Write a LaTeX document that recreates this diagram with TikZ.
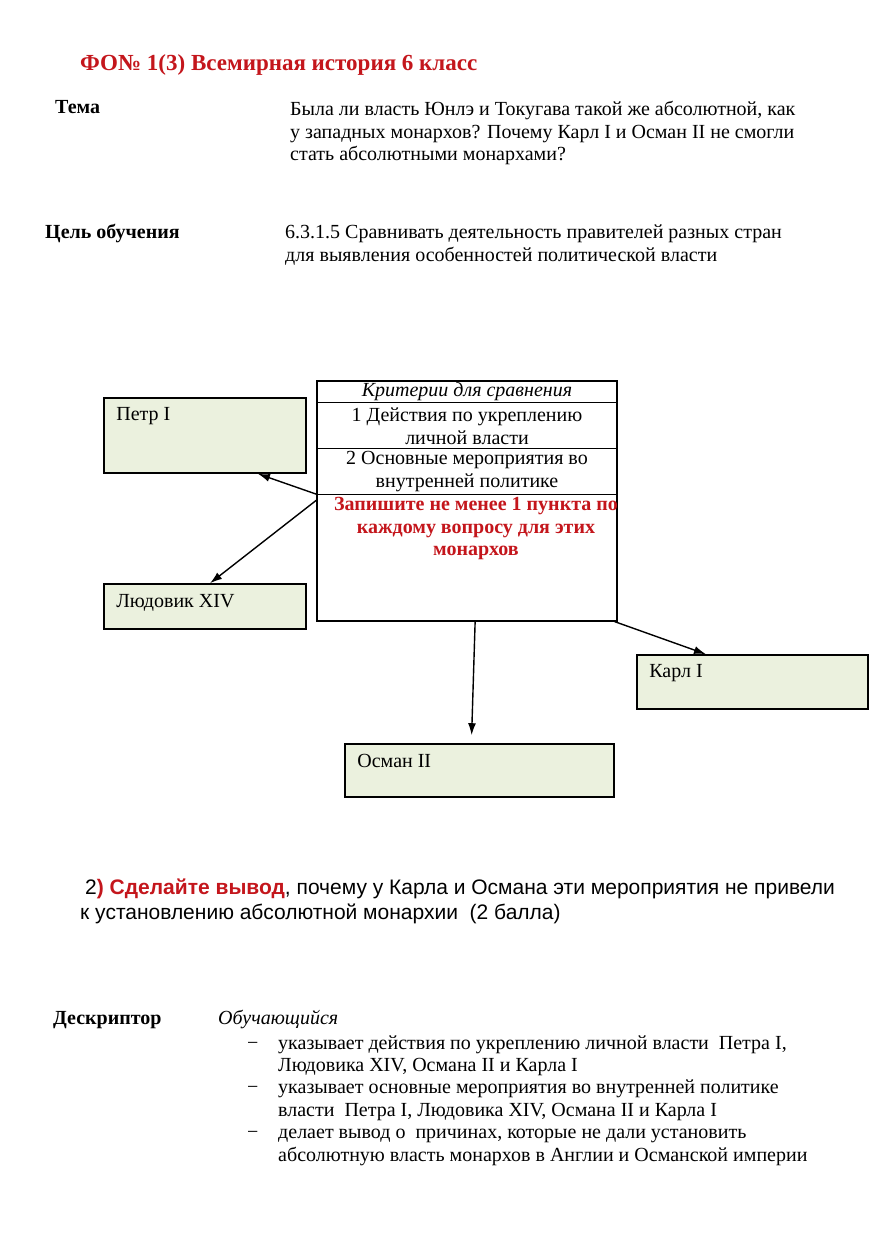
\documentclass[tikz,border=0pt]{standalone}
\usepackage{fontspec}
\setmainfont{Liberation Serif}
\newfontfamily\arialfont{Liberation Sans}
\usetikzlibrary{arrows.meta,calc}
\definecolor{boxgreen}{RGB}{235,241,222}
\definecolor{titlered}{RGB}{196,22,28}
\newcommand\bodysize{\fontsize{20}{22.6}\selectfont}
\tikzset{
    txt/.style={anchor=north west, inner sep=0pt, align=left},
    line/.style={anchor=base west, inner sep=0pt},
    monarch/.style={draw, line width=1.6pt, fill=boxgreen, inner sep=0pt},
    arr/.style={-{Latex[length=12pt,width=8pt]}, line width=1.4pt}
}
\begin{document}
\begin{tikzpicture}[
        x=1pt, y=-1pt,
        every node/.style={
            font=\bodysize
        }
    ]
        \useasboundingbox[fill=white] (0,0) rectangle (892,1238);

        % Header
        \node[line, font=\fontsize{23}{26}\selectfont\bfseries, text=titlered] (title) at (80,71) {ФО№ 1(3) Всемирная история 6 класс};

        \node[line, font=\bodysize\bfseries] (temaLbl) at (55,114) {Тема};
        \node[txt] (temaText) at (290,101) {Была ли власть Юнлэ и Токугава такой же абсолютной, как\\
            у западных монархов? Почему Карл I и Осман II не смогли\\
            стать абсолютными монархами?};

        \node[line, font=\bodysize\bfseries] (goalLbl) at (45,239) {Цель обучения};
        \node[txt] (goalText) at (285,225) {6.3.1.5 Сравнивать деятельность правителей разных стран\\
            для выявления особенностей политической власти};

        % Criteria table
        \node[draw, line width=1.2pt, minimum width=300, minimum height=240, inner sep=0pt] (crit) at (467,501) {};
        \node[font=\bodysize\itshape, inner sep=0pt] (critHead) at (467,392) {Критерии для сравнения};
        \node[align=center, inner sep=0pt, minimum height=46] (critOne) at (467,426) {1 Действия по укреплению\\ личной власти};
        \node[align=center, inner sep=0pt, minimum height=45] (critTwo) at (467,471.5) {2 Основные мероприятия во\\ внутренней политике};
        \node[align=center, anchor=north, inner sep=0pt, text=titlered, font=\bodysize\bfseries] (critNote) at (476,497) {Запишите не менее 1 пункта по\\ каждому вопросу для этих\\ монархов};

        \draw[line width=1.2pt] (crit.west |- critOne.north) -- (crit.east |- critOne.north);
        \draw[line width=1.2pt] (crit.west |- critTwo.north) -- (crit.east |- critTwo.north);
        \draw[line width=1.2pt] (crit.west |- critTwo.south) -- (crit.east |- critTwo.south);

        % Monarchs
        \node[monarch, minimum width=202, minimum height=75] (petr) at (205,435.5) {};
        \node[line] (petrLbl) at ([shift={(13,23)}]petr.north west) {Петр I};

        \node[monarch, minimum width=202, minimum height=45] (louis) at (205,606.5) {};
        \node[line] (louisLbl) at ([shift={(13,24)}]louis.north west) {Людовик XIV};

        \node[monarch, minimum width=231, minimum height=54] (karl) at (752.5,682) {};
        \node[line] (karlLbl) at ([shift={(13,23)}]karl.north west) {Карл I};

        \node[monarch, minimum width=269, minimum height=53] (osman) at (479.5,770.5) {};
        \node[line] (osmanLbl) at ([shift={(13,24)}]osman.north west) {Осман II};

        \draw[arr] (crit.west |- critTwo.south) -- ($(petr.south west)!0.76!(petr.south east)$);
        \draw[arr] ([yshift=-6]crit.west |- critTwo.south) -- ($(louis.north west)!0.525!(louis.north east)$);
        \draw[arr, shorten >=8pt] ($(crit.south west)!0.527!(crit.south east)$) -- ($(osman.north west)!0.47!(osman.north east)$);
        \draw[arr] ([xshift=-3]crit.south east) -- ($(karl.north west)!0.3!(karl.north east)$);

        % Task 2
        \node[line, font=\fontsize{21}{25}\selectfont\arialfont] (task) at (85,894) {2{\color{titlered}\bfseries) Сделайте вывод}, почему у Карла и Османа эти мероприятия не привели};
        \node[line, font=\fontsize{21}{25}\selectfont\arialfont] (taskCont) at (80,919) {к установлению абсолютной монархии\ \ (2 балла)};

        % Descriptor
        \node[line, font=\bodysize\bfseries] (descLbl) at (53,1024) {Дескриптор};
        \node[line, font=\bodysize\itshape] (learner) at (218,1024) {Обучающийся};
        \foreach \txt [count=\i from 0] in {
            {указывает действия по укреплению личной власти\ \ Петра I,},
            {Людовика XIV, Османа II и Карла I},
            {указывает основные мероприятия во внутренней политике},
            {власти\ \ Петра I, Людовика XIV, Османа II и Карла I},
            {делает вывод о\ \ причинах, которые не дали установить},
            {абсолютную власть монархов в Англии и Османской империи}}
            \node[line] (desc\i) at (278,1049+\i*22.4) {\txt};
        \foreach \i in {0,2,4}
            \node[line] (dash\i) at (247,1049+\i*22.4) {−};

    \end{tikzpicture}
\end{document}
